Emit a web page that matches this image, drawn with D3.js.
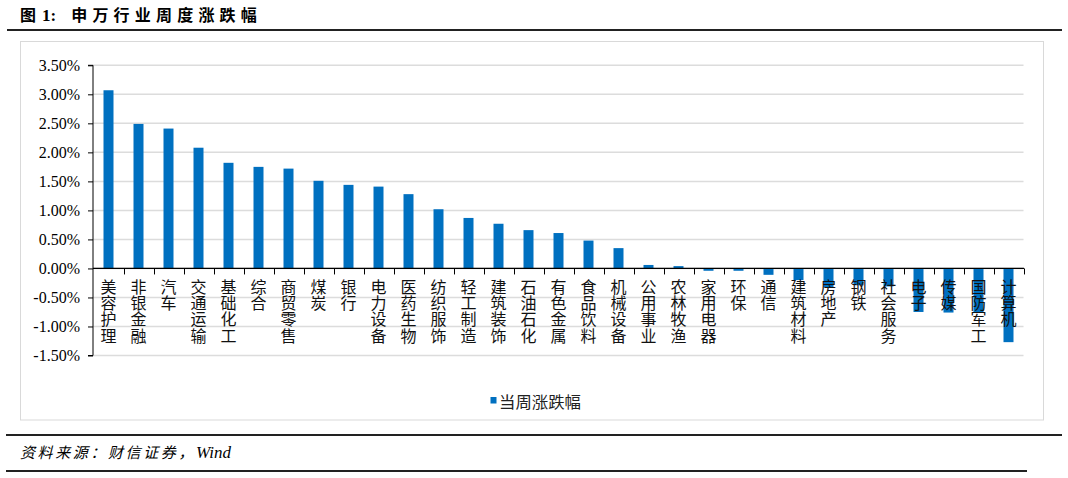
<!DOCTYPE html>
<html>
<head>
<meta charset="utf-8">
<script src="https://cdn.jsdelivr.net/npm/d3@7"></script>
<style>
  html, body { margin: 0; padding: 0; background: #fff; }
  svg { display: block; }
  .vlab { writing-mode: vertical-rl; text-orientation: upright; }
</style>
</head>
<body>
<svg id="chart" width="1068" height="478"></svg>
<script>
// ---- data ----
const categories = ["美容护理","非银金融","汽车","交通运输","基础化工","综合","商贸零售","煤炭","银行","电力设备","医药生物","纺织服饰","轻工制造","建筑装饰","石油石化","有色金属","食品饮料","机械设备","公用事业","农林牧渔","家用电器","环保","通信","建筑材料","房地产","钢铁","社会服务","电子","传媒","国防军工","计算机"];
const values = [3.07,2.49,2.41,2.08,1.82,1.75,1.72,1.51,1.44,1.41,1.28,1.02,0.87,0.77,0.66,0.61,0.48,0.35,0.06,0.04,-0.04,-0.04,-0.11,-0.20,-0.32,-0.29,-0.31,-0.75,-0.76,-0.76,-1.27];
const yTicks = [3.5,3.0,2.5,2.0,1.5,1.0,0.5,0.0,-0.5,-1.0,-1.5];
const seriesName = "当周涨跌幅";
const titleText = "申万行业周度涨跌幅";
const sourceText = "资料来源：财信证券，";

const svg = d3.select("#chart");
const BLUE = "#0070C0";

// ---- scales ----
const x = d3.scaleBand().domain(categories).range([93.5, 1023.5]).padding(0);
const y = d3.scaleLinear().domain([-1.5, 3.5]).range([355.5, 65.3]);
const barW = 10;

// ---- title ----
const title = svg.append("text").attr("x", 20).attr("y", 21)
  .attr("font-size", 16).attr("font-weight", 700).attr("fill", "#000");
title.append("tspan").attr("font-family", "Noto Sans CJK SC").text("图");
title.append("tspan").attr("font-family", "Liberation Serif").attr("font-size", 17).attr("dx", 6).text("1:");
title.append("tspan").attr("font-family", "Noto Sans CJK SC").attr("letter-spacing", 5.2).attr("dx", 15).text(titleText);
svg.append("line").attr("x1", 7).attr("x2", 1062).attr("y1", 30).attr("y2", 30)
  .attr("stroke", "#222").attr("stroke-width", 2);

// ---- chart box ----
svg.append("rect").attr("x", 20.5).attr("y", 41.5).attr("width", 1023).attr("height", 378.5)
  .attr("fill", "#fff").attr("stroke", "#d9d9d9").attr("stroke-width", 1);

// ---- gridlines ----
svg.append("g").selectAll("line").data(yTicks).join("line")
  .attr("x1", 93).attr("x2", 1023.5)
  .attr("y1", d => y(d)).attr("y2", d => y(d))
  .attr("stroke", "#dcdcdc").attr("stroke-width", 1.5);

// ---- bars ----
svg.append("g").selectAll("rect").data(values).join("rect")
  .attr("x", (d, i) => x(categories[i]) + x.bandwidth() / 2 - barW / 2)
  .attr("width", barW)
  .attr("y", d => y(Math.max(0, d)))
  .attr("height", d => Math.abs(y(d) - y(0)))
  .attr("fill", BLUE);

// ---- y axis ----
const yAxis = d3.axisLeft(y).tickValues(yTicks).tickSize(5).tickPadding(8)
  .tickFormat(d => d.toFixed(2) + "%");
const gy = svg.append("g").attr("transform", "translate(93,0)").call(yAxis);
gy.select(".domain").attr("stroke", "#000").attr("d", `M-5,${y(3.5)}H0V${y(-1.5)}H-5`);
gy.selectAll(".tick line").attr("stroke", "#000");
gy.selectAll(".tick text").attr("font-family", "Liberation Serif").attr("font-size", 16)
  .attr("fill", "#000").attr("x", -13);

// ---- x axis at zero ----
const gx = svg.append("g").attr("transform", `translate(0,${y(0)})`);
gx.append("line").attr("x1", 93).attr("x2", 1024).attr("y1", 0).attr("y2", 0)
  .attr("stroke", "#000").attr("stroke-width", 1.2);
const bounds = categories.map(c => x(c) + x.bandwidth());
gx.selectAll("line.tk").data(bounds).join("line").attr("class", "tk")
  .attr("x1", d => Math.round(d) + 0.5).attr("x2", d => Math.round(d) + 0.5)
  .attr("y1", 0).attr("y2", 6).attr("stroke", "#000");

// ---- category labels (vertical, upright characters) ----
const labels = svg.append("g").attr("font-family", "Noto Sans CJK SC").attr("font-size", 16)
  .attr("fill", "#111");
labels.selectAll("text").data(categories).join("text")
  .attr("class", "vlab")
  .attr("x", c => x(c) + x.bandwidth() / 2)
  .attr("y", 279)
  .attr("letter-spacing", 0.2)
  .text(c => c);

// ---- legend ----
svg.append("rect").attr("x", 490.5).attr("y", 397).attr("width", 6).attr("height", 6.5).attr("fill", BLUE);
svg.append("text").attr("x", 499).attr("y", 407.5).attr("font-family", "Noto Sans CJK SC")
  .attr("font-size", 16).attr("fill", "#222").attr("textLength", 82).attr("lengthAdjust", "spacingAndGlyphs")
  .text(seriesName);

// ---- source ----
svg.append("line").attr("x1", 6).attr("x2", 1062).attr("y1", 435).attr("y2", 435)
  .attr("stroke", "#222").attr("stroke-width", 2);
const src = svg.append("text").attr("x", 20).attr("y", 458).attr("font-size", 15)
  .attr("font-style", "italic").attr("fill", "#000");
src.append("tspan").attr("font-family", "Noto Sans CJK SC").attr("letter-spacing", 2.6).text(sourceText);
src.append("tspan").attr("font-family", "Liberation Serif").attr("font-size", 17).text("Wind");
svg.append("line").attr("x1", 6).attr("x2", 1027).attr("y1", 471).attr("y2", 471)
  .attr("stroke", "#222").attr("stroke-width", 2);
</script>
</body>
</html>
